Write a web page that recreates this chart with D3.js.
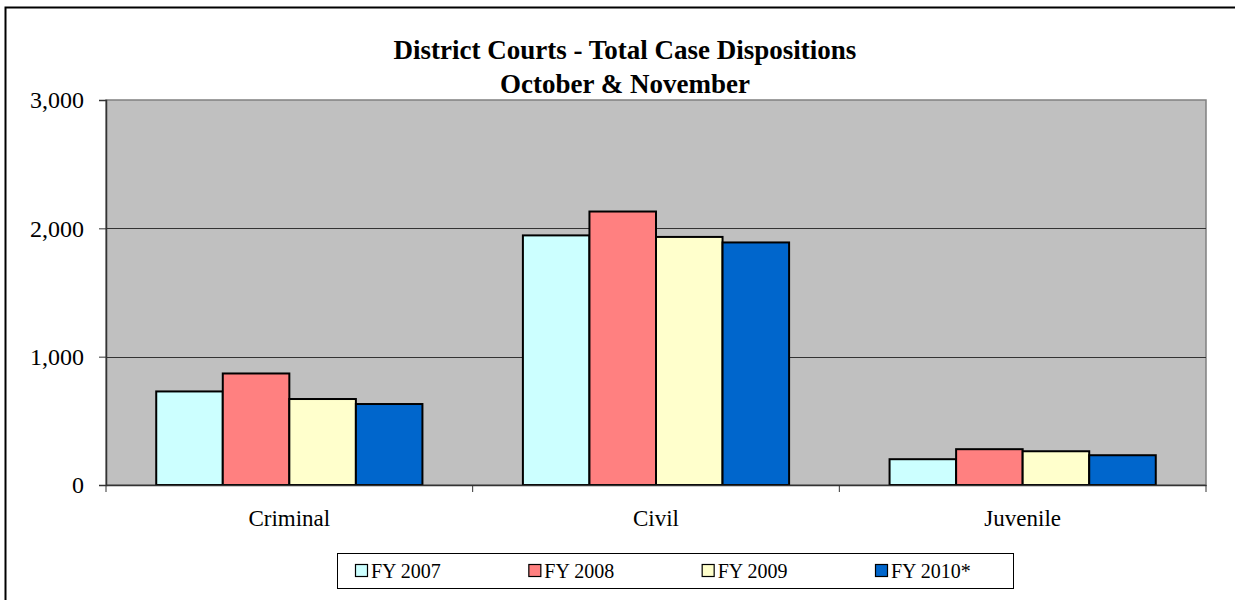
<!DOCTYPE html>
<html>
<head>
<meta charset="utf-8">
<script src="https://cdn.jsdelivr.net/npm/d3@7"></script>
<style>
  body { margin: 0; background: #fff; }
  svg { display: block; font-family: 'Liberation Serif', 'Times New Roman', serif; }
</style>
</head>
<body>
<div id="chart"></div>
<script>
const categories = ['Criminal', 'Civil', 'Juvenile']
const seriesNames = ['FY 2007', 'FY 2008', 'FY 2009', 'FY 2010*']
const seriesColors = ['#ccffff', '#ff8080', '#ffffcc', '#0066cc']
const fy2007 = [729, 1945, 201]
const fy2008 = [869, 2131, 279]
const fy2009 = [670, 1933, 263]
const fy2010 = [631, 1890, 232]
const yTicks = [0, 1000, 2000, 3000]
const titleLines = ['District Courts - Total Case Dispositions', 'October & November']

const seriesValues = [fy2007, fy2008, fy2009, fy2010]

const width = 1235
const height = 600
const margin = {top: 100, right: 29, bottom: 115, left: 106}

const svg = d3.select('#chart')
  .append('svg')
  .attr('width', width)
  .attr('height', height)

// outer chart border (runs off the right/bottom edge like the source)
svg.append('rect')
  .attr('x', 5.5).attr('y', 7.5)
  .attr('width', width + 10).attr('height', height + 10)
  .attr('fill', 'none')
  .attr('stroke', '#000')
  .attr('stroke-width', 2)

const plotW = width - margin.left - margin.right
const plotH = height - margin.top - margin.bottom

const g = svg.append('g')
  .attr('transform', `translate(${margin.left},${margin.top})`)

const x0 = d3.scaleBand()
  .domain(categories)
  .range([0, plotW])
  .paddingInner(0)
  .paddingOuter(0)

const x1 = d3.scaleBand()
  .domain(seriesNames)
  .range([0, x0.bandwidth() * 0.726])

const y = d3.scaleLinear()
  .domain([0, 3000])
  .range([plotH, 0])

g.append('rect')
  .attr('width', plotW)
  .attr('height', plotH)
  .attr('fill', '#c0c0c0')
  .attr('stroke', '#808080')
  .attr('stroke-width', 1.5)

// gridlines
g.append('g')
  .selectAll('line')
  .data(yTicks.filter(d => d > 0 && d < 3000))
  .join('line')
  .attr('x1', 0).attr('x2', plotW)
  .attr('y1', d => Math.round(y(d)) + 0.5)
  .attr('y2', d => Math.round(y(d)) + 0.5)
  .attr('stroke', '#333')
  .attr('stroke-width', 1)

// bars
const groupOffset = (x0.bandwidth() - x1.range()[1]) / 2
const groups = g.append('g')
  .selectAll('g')
  .data(categories)
  .join('g')
  .attr('transform', d => `translate(${x0(d) + groupOffset},0)`)

groups.selectAll('rect')
  .data((c, i) => seriesNames.map((s, k) => ({s, k, v: seriesValues[k][i]})))
  .join('rect')
  .attr('x', d => x1(d.s))
  .attr('y', d => y(d.v))
  .attr('width', x1.bandwidth())
  .attr('height', d => plotH - y(d.v))
  .attr('fill', d => seriesColors[d.k])
  .attr('stroke', '#000')
  .attr('stroke-width', 2)

// y axis
const yAxis = g.append('g')
  .call(d3.axisLeft(y).tickValues(yTicks).tickFormat(d3.format(',')).tickSize(7).tickPadding(15))
yAxis.select('.domain').attr('stroke', '#333').attr('stroke-width', 1.5)
yAxis.selectAll('.tick line').attr('stroke', '#333')
yAxis.selectAll('text')
  .attr('font-size', 24)
  .attr('font-family', "'Liberation Serif', serif")
  .attr('fill', '#000')

// x axis
const xAxis = g.append('g')
  .attr('transform', `translate(0,${plotH})`)
  .call(d3.axisBottom(x0).tickSize(0).tickPadding(25))
xAxis.select('.domain').attr('stroke', '#333').attr('stroke-width', 1.5)
xAxis.selectAll('text')
  .attr('font-size', 23)
  .attr('font-family', "'Liberation Serif', serif")
  .attr('fill', '#000')

// category boundary ticks
xAxis.append('g')
  .selectAll('line')
  .data(d3.range(categories.length + 1))
  .join('line')
  .attr('x1', i => i * x0.step())
  .attr('x2', i => i * x0.step())
  .attr('y1', 0).attr('y2', 7)
  .attr('stroke', '#333')

// title
svg.append('g')
  .selectAll('text')
  .data(titleLines)
  .join('text')
  .attr('x', 625)
  .attr('y', (d, i) => 59 + i * 34)
  .attr('text-anchor', 'middle')
  .attr('font-size', 27)
  .attr('font-weight', 'bold')
  .text(d => d)

// legend
const legend = svg.append('g').attr('transform', 'translate(337,553)')
legend.append('rect')
  .attr('x', 0.5).attr('y', 0.5)
  .attr('width', 676).attr('height', 35)
  .attr('fill', '#fff')
  .attr('stroke', '#000')
  .attr('stroke-width', 1)

const legendX = d3.scalePoint()
  .domain(seriesNames)
  .range([18, 538])

const items = legend.selectAll('g.item')
  .data(seriesNames)
  .join('g')
  .attr('class', 'item')
  .attr('transform', d => `translate(${legendX(d)},0)`)

items.append('rect')
  .attr('x', 0.5).attr('y', 11.5)
  .attr('width', 12).attr('height', 12)
  .attr('fill', (d, i) => seriesColors[i])
  .attr('stroke', '#000')
  .attr('stroke-width', 1.2)

items.append('text')
  .attr('x', 16)
  .attr('y', 25)
  .attr('font-size', 20)
  .text(d => d)
</script>
</body>
</html>
